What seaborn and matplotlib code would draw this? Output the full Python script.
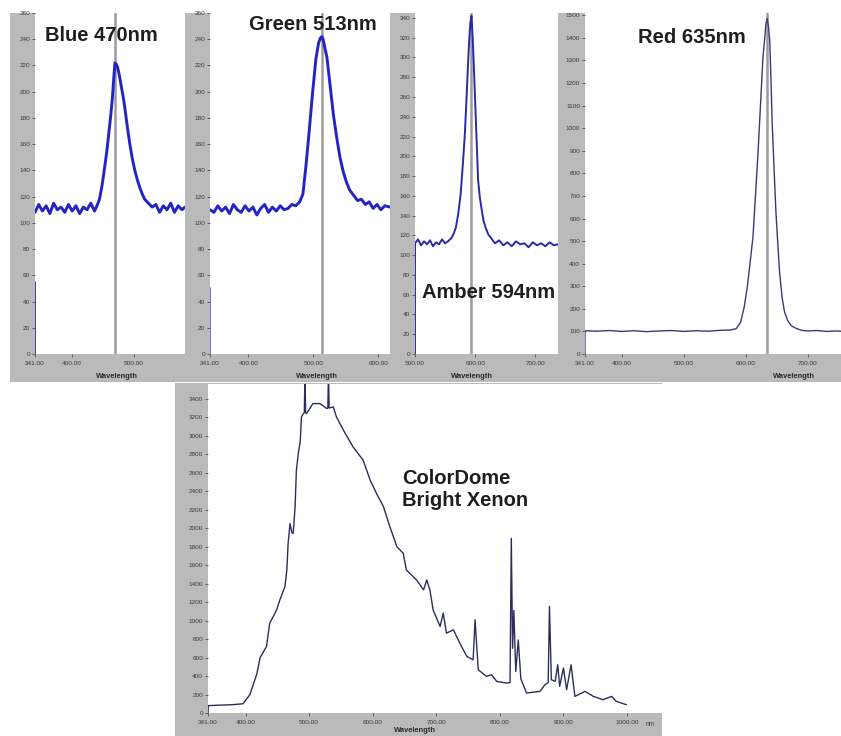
import matplotlib
matplotlib.use("Agg")
import matplotlib.pyplot as plt
import seaborn as sns
from matplotlib.patches import Rectangle
from matplotlib.ticker import FixedLocator, FuncFormatter

# ---------------- spectra (wavelength nm, counts) ----------------
blue_nm = [341, 347, 353, 359, 365, 371, 377, 383, 389, 395, 401, 407, 413, 419, 425, 431,
           437, 441, 445, 449, 453, 457, 460, 463, 466, 468, 470, 472, 474, 476, 478, 481,
           484, 487, 490, 494, 498, 502, 506, 510, 514, 518, 524, 530, 536, 542, 548, 554,
           560, 566, 572, 578, 583]
blue_val = [108, 114, 109, 113, 107, 115, 110, 112, 108, 114, 109, 113, 107, 112, 110, 115,
            109, 113, 118, 128, 141, 155, 168, 181, 196, 210, 222, 221, 219, 215, 210, 202,
            194, 184, 173, 160, 149, 140, 133, 127, 122, 118, 115, 112, 114, 108, 113, 110,
            115, 108, 113, 110, 112]
blue_onset = [0, 55]

green_nm = [341, 347, 353, 359, 365, 371, 377, 383, 389, 395, 401, 407, 413, 419, 425, 431,
            437, 443, 449, 455, 461, 467, 473, 479, 484, 489, 494, 499, 504, 508, 511, 513,
            515, 518, 521, 526, 531, 536, 541, 546, 551, 556, 562, 568, 574, 580, 586, 592,
            598, 604, 610, 618]
green_val = [110, 108, 113, 109, 112, 107, 114, 110, 108, 113, 109, 112, 106, 111, 114, 108,
             112, 109, 113, 110, 111, 114, 113, 116, 122, 145, 172, 200, 225, 237, 241, 242,
             240, 233, 226, 204, 182, 165, 150, 139, 131, 125, 121, 117, 118, 114, 116, 111,
             114, 110, 113, 112]
green_onset = [0, 50]

amber_nm = [500, 500, 505, 510, 515, 520, 525, 530, 535, 540, 545, 550, 555, 560, 564, 568,
            572, 576, 580, 583, 586, 588, 590, 592, 594, 596, 598, 600, 602, 605, 608, 611,
            614, 618, 622, 627, 633, 640, 647, 654, 661, 668, 675, 682, 689, 696, 703, 710,
            717, 724, 731, 738]
amber_val = [0, 112, 116, 110, 114, 111, 115, 109, 113, 111, 116, 112, 114, 117, 121, 128,
             142, 162, 195, 223, 262, 290, 315, 335, 342, 320, 290, 258, 225, 176, 158, 146,
             135, 127, 121, 117, 112, 115, 110, 113, 109, 114, 111, 112, 108, 113, 110, 112,
             109, 113, 110, 111]

red_nm = [341, 341, 360, 380, 400, 420, 440, 460, 480, 500, 520, 540, 560, 575, 585, 592,
          598, 603, 608, 612, 616, 620, 624, 628, 631, 633, 635, 637, 639, 641, 643, 646,
          649, 652, 655, 659, 663, 668, 674, 681, 690, 700, 715, 730, 745, 754]
red_val = [0, 103, 101, 104, 100, 103, 99, 102, 104, 100, 103, 101, 105, 106, 112, 140,
           210, 300, 420, 520, 700, 885, 1095, 1310, 1400, 1464, 1485, 1450, 1390, 1220, 1022, 820,
           630, 490, 360, 250, 185, 148, 125, 114, 105, 102, 104, 100, 102, 101]

xenon_nm = [341, 341.5, 360, 380, 396, 407, 418, 423, 433, 438, 449, 454, 462, 465, 467, 470,
            473, 475, 478, 480, 483, 486, 488, 491, 492.5, 493.5, 494.5, 496, 506, 517, 528, 529.5,
            530.5, 531.5, 538, 543, 554, 569, 585, 596, 606, 617, 627, 638, 648, 653, 669, 680,
            685, 690, 695, 706, 711, 716, 727, 737, 748, 758, 761, 766, 779, 787, 795, 811,
            816, 818, 820, 822, 825, 829, 833, 842, 863, 871, 876, 878, 881, 887, 891, 894,
            900, 905, 912, 918, 934, 947, 962, 976, 983, 999]
xenon_val = [0, 80, 85, 90, 100, 200, 430, 600, 720, 970, 1116, 1224, 1368, 1548, 1836, 2050,
             1950, 1944, 2232, 2628, 2808, 2934, 3204, 3240, 3250, 3700, 3250, 3240, 3348, 3348, 3294, 3300,
             3700, 3300, 3312, 3204, 3060, 2880, 2736, 2520, 2376, 2232, 2016, 1800, 1728, 1548, 1440, 1332,
             1440, 1332, 1116, 936, 1080, 864, 900, 756, 612, 576, 1008, 468, 396, 414, 342, 324,
             330, 1890, 700, 1110, 450, 790, 370, 216, 234, 306, 330, 1152, 360, 342, 522, 288,
             486, 252, 522, 180, 234, 180, 144, 180, 126, 90]

peak_blue, peak_green, peak_amber, peak_red = 470, 513, 594, 635

blue_yticks = list(range(0, 261, 20))
amber_yticks = list(range(0, 341, 20))
red_yticks = list(range(0, 1501, 100))
xenon_yticks = list(range(0, 3401, 200))

# ---------------- figure ----------------
W, H = 841, 736
sns.set_theme(style="white")
plt.rcParams['font.family'] = ['Liberation Sans', 'DejaVu Sans']

GRAY = '#bababa'
TRACE_BLUE = '#2323c8'

fig = plt.figure(figsize=(W / 100, H / 100), dpi=100)
fig.patch.set_facecolor('white')


def px_axes(x0, y0, x1, y1):
    return fig.add_axes([x0 / W, 1 - y1 / H, (x1 - x0) / W, (y1 - y0) / H])


def gray_block(x0, y0, x1, y1):
    fig.add_artist(Rectangle((x0 / W, 1 - y1 / H), (x1 - x0) / W, (y1 - y0) / H,
                             transform=fig.transFigure, facecolor=GRAY,
                             edgecolor='none', zorder=-5))


def dress(ax, xlim, ylim, xticks, yticks, label_x, label_y=-0.067):
    ax.set_xlim(*xlim)
    ax.set_ylim(*ylim)
    ax.set_facecolor('white')
    for s in ax.spines.values():
        s.set_visible(False)
    ax.xaxis.set_major_locator(FixedLocator(xticks))
    ax.yaxis.set_major_locator(FixedLocator(yticks))
    ax.xaxis.set_major_formatter(FuncFormatter(lambda v, p: f"{v:.2f}"))
    ax.yaxis.set_major_formatter(FuncFormatter(lambda v, p: f"{v:.0f}"))
    ax.tick_params(axis='both', which='major', bottom=True, left=True, direction='out',
                   length=2.5, width=0.6, color='#505050', labelsize=4.6,
                   labelcolor='#3a3a3a', pad=1)
    ax.tick_params(axis='x', pad=2.5)
    ax.set_xlabel('Wavelength', fontsize=5.4, fontweight='bold', color='#2a2a2a')
    ax.set_ylabel('')
    ax.xaxis.set_label_coords(label_x, label_y)
    ax.xaxis.label.set_va('center')


# gray instrument frames
gray_block(10, 13, 841, 382)
gray_block(175, 383, 662, 736)

# ---- Blue 470 nm ----
ax1 = px_axes(35, 13, 185, 354)
ax1.axvline(peak_blue, color='#9c9c9c', lw=1.8, zorder=1)
sns.lineplot(x=blue_nm, y=blue_val, ax=ax1, color=TRACE_BLUE, linewidth=2.1,
             estimator=None, sort=False, zorder=2)
sns.lineplot(x=[blue_nm[0], blue_nm[0]], y=blue_onset, ax=ax1, color='#20209a',
             linewidth=1.2, estimator=None, sort=False)
dress(ax1, (341, 583), (0, 260), [341, 400, 500], blue_yticks, 0.547)

# ---- Green 513 nm ----
ax2 = px_axes(210, 13, 390, 354)
ax2.axvline(peak_green, color='#9c9c9c', lw=1.8, zorder=1)
sns.lineplot(x=green_nm, y=green_val, ax=ax2, color=TRACE_BLUE, linewidth=2.1,
             estimator=None, sort=False, zorder=2)
sns.lineplot(x=[green_nm[0], green_nm[0]], y=green_onset, ax=ax2, color='#5a5ad0',
             linewidth=1.2, estimator=None, sort=False)
dress(ax2, (341, 618), (0, 260), [341, 400, 500, 600], blue_yticks, 0.594)

# ---- Amber 594 nm ----
ax3 = px_axes(415, 13, 558, 354)
ax3.axvline(peak_amber, color='#9c9c9c', lw=1.8, zorder=1)
sns.lineplot(x=amber_nm, y=amber_val, ax=ax3, color='#2a2aa8', linewidth=1.4,
             estimator=None, sort=False, zorder=2)
dress(ax3, (500, 738), (0, 345), [500, 600, 700], amber_yticks, 0.40)

# ---- Red 635 nm ----
ax4 = px_axes(585, 13, 841, 354)
ax4.axvline(peak_red, color='#9c9c9c', lw=1.8, zorder=1)
sns.lineplot(x=red_nm, y=red_val, ax=ax4, color='#3a3a78', linewidth=1.0,
             estimator=None, sort=False, zorder=2)
dress(ax4, (341, 754), (0, 1510), [341, 400, 500, 600, 700], red_yticks, 0.816)

# ---- ColorDome Bright Xenon ----
ax5 = px_axes(208, 384, 662, 713)
sns.lineplot(x=xenon_nm, y=xenon_val, ax=ax5, color='#2d2d5c', linewidth=1.0,
             estimator=None, sort=False)
dress(ax5, (341, 1055), (0, 3560),
      [341, 400, 500, 600, 700, 800, 900, 1000], xenon_yticks, 0.456, -0.053)
ax5.text((646 - 208) / 454, -0.036, 'nm', transform=ax5.transAxes, fontsize=4.8,
         color='#3a3a3a', ha='left', va='center')

# panel titles
title_kw = dict(fontsize=14.5, fontweight='bold', color='#1e1e1e', va='baseline')
fig.text(101.5 / W, 1 - 41 / H, 'Blue 470nm', ha='center', **title_kw)
fig.text(312.5 / W, 1 - 30 / H, 'Green 513nm', ha='center', **title_kw)
fig.text(488.5 / W, 1 - 298 / H, 'Amber 594nm', ha='center', **title_kw)
fig.text(692 / W, 1 - 43 / H, 'Red 635nm', ha='center', **title_kw)
fig.text(402 / W, 1 - 484 / H, 'ColorDome', ha='left', **title_kw)
fig.text(402 / W, 1 - 506 / H, 'Bright Xenon', ha='left', **title_kw)

fig.savefig('out.png', dpi=100, facecolor='white')
